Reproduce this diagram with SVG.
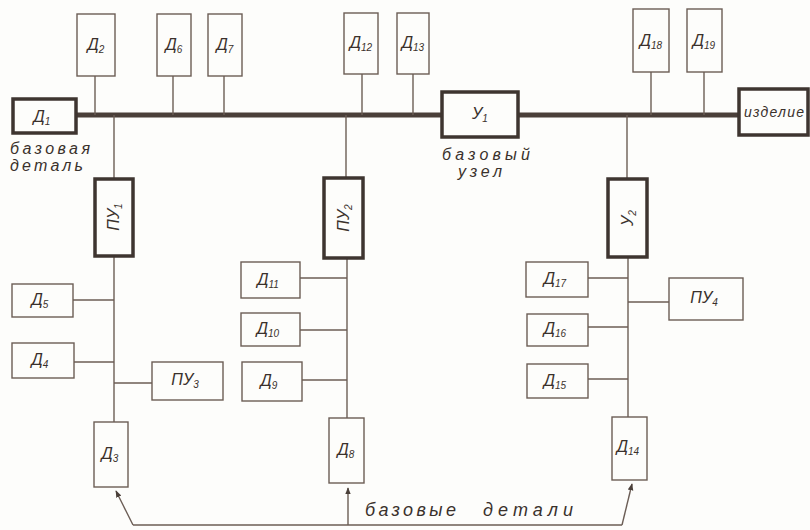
<svg xmlns="http://www.w3.org/2000/svg" width="810" height="530" viewBox="0 0 810 530">
<defs>
<style>
.b{fill:#fdfdfb;stroke:#6b5d55;stroke-width:1.4}
.k{fill:#fdfdfb;stroke:#3e3530;stroke-width:3.5}
.c{stroke:#6b5d55;stroke-width:1.4;fill:none}
.m{stroke:#4a3f39;stroke-width:5;fill:none}
.t{font-family:"Liberation Sans",sans-serif;font-style:italic;fill:#3a312c;font-size:16px;text-anchor:middle}
.s{font-size:10px}
.n{font-family:"Liberation Sans",sans-serif;font-style:italic;fill:#3a312c;font-size:16px}
</style>
<marker id="ar" viewBox="0 0 10 10" refX="9" refY="5" markerWidth="7" markerHeight="7" orient="auto-start-reverse" markerUnits="userSpaceOnUse">
<path d="M0,1 L10,5 L0,9 Z" fill="#4a3f39"/>
</marker>
</defs>
<rect width="810" height="530" fill="#fdfdfb"/>
<g id="connectors">
<line class="m" x1="76" y1="115" x2="739" y2="115"/>
<line class="c" x1="95" y1="76" x2="95" y2="115"/>
<line class="c" x1="173" y1="76" x2="173" y2="115"/>
<line class="c" x1="224" y1="76" x2="224" y2="115"/>
<line class="c" x1="362" y1="74" x2="362" y2="115"/>
<line class="c" x1="413" y1="74" x2="413" y2="115"/>
<line class="c" x1="651" y1="72" x2="651" y2="115"/>
<line class="c" x1="704" y1="72" x2="704" y2="115"/>
<line class="c" x1="114" y1="115" x2="114" y2="179"/>
<line class="c" x1="346" y1="115" x2="346" y2="178"/>
<line class="c" x1="627" y1="115" x2="627" y2="179"/>
<line class="c" x1="114" y1="256" x2="114" y2="422"/>
<line class="c" x1="73" y1="300" x2="114" y2="300"/>
<line class="c" x1="74" y1="362" x2="114" y2="362"/>
<line class="c" x1="114" y1="383" x2="152" y2="383"/>
<line class="c" x1="347" y1="258" x2="347" y2="418"/>
<line class="c" x1="300" y1="278" x2="347" y2="278"/>
<line class="c" x1="300" y1="330" x2="347" y2="330"/>
<line class="c" x1="302" y1="380" x2="347" y2="380"/>
<line class="c" x1="628" y1="257" x2="628" y2="417"/>
<line class="c" x1="588" y1="278" x2="628" y2="278"/>
<line class="c" x1="628" y1="302" x2="669" y2="302"/>
<line class="c" x1="588" y1="327" x2="628" y2="327"/>
<line class="c" x1="588" y1="379" x2="628" y2="379"/>
<polyline class="c" points="133,525 622,525"/>
<line class="c" x1="133" y1="525" x2="116" y2="491" marker-end="url(#ar)"/>
<line class="c" x1="348" y1="525" x2="348" y2="488" marker-end="url(#ar)"/>
<line class="c" x1="622" y1="525" x2="632" y2="484" marker-end="url(#ar)"/>
</g>
<g id="d1"><rect class="k" x="13" y="99" width="63" height="34"/><text class="t" x="42" y="122">Д<tspan class="s" dy="3">1</tspan></text></g>
<g id="d1-label"><text class="n" x="10" y="154" textLength="80" lengthAdjust="spacing">базовая</text><text class="n" x="10" y="171" textLength="73" lengthAdjust="spacing">деталь</text></g>
<g id="d2"><rect class="b" x="77" y="14" width="38" height="62"/><text class="t" x="96" y="50">Д<tspan class="s" dy="3">2</tspan></text></g>
<g id="d6"><rect class="b" x="157" y="14" width="34" height="62"/><text class="t" x="174" y="50">Д<tspan class="s" dy="3">6</tspan></text></g>
<g id="d7"><rect class="b" x="208" y="14" width="34" height="62"/><text class="t" x="225" y="50">Д<tspan class="s" dy="3">7</tspan></text></g>
<g id="d12"><rect class="b" x="344" y="13" width="34" height="61"/><text class="t" x="361" y="48">Д<tspan class="s" dy="3">12</tspan></text></g>
<g id="d13"><rect class="b" x="397" y="13" width="32" height="61"/><text class="t" x="413" y="48">Д<tspan class="s" dy="3">13</tspan></text></g>
<g id="d18"><rect class="b" x="633" y="9" width="36" height="63"/><text class="t" x="651" y="46">Д<tspan class="s" dy="3">18</tspan></text></g>
<g id="d19"><rect class="b" x="687" y="9" width="35" height="63"/><text class="t" x="704" y="46">Д<tspan class="s" dy="3">19</tspan></text></g>
<g id="u1"><rect class="k" x="442" y="92" width="76" height="45"/><text class="t" x="480" y="119">У<tspan class="s" dy="3">1</tspan></text></g>
<g id="u1-label"><text class="n" x="442" y="160" textLength="88" lengthAdjust="spacing">базовый</text><text class="n" x="458" y="177" textLength="44" lengthAdjust="spacing">узел</text></g>
<g id="izd"><rect class="k" x="739" y="89" width="69" height="46"/><text class="t" x="774" y="117" style="font-size:14px" textLength="60" lengthAdjust="spacing">изделие</text></g>
<g id="pu1"><rect class="k" x="95" y="179" width="38" height="77"/><text class="t" transform="translate(119,217) rotate(-90)">ПУ<tspan class="s" dy="3">1</tspan></text></g>
<g id="pu2"><rect class="k" x="324" y="178" width="39" height="80"/><text class="t" transform="translate(349,218) rotate(-90)">ПУ<tspan class="s" dy="3">2</tspan></text></g>
<g id="u2"><rect class="k" x="608" y="179" width="39" height="78"/><text class="t" transform="translate(633,218) rotate(-90)">У<tspan class="s" dy="3">2</tspan></text></g>
<g id="d5"><rect class="b" x="12" y="284" width="61" height="33"/><text class="t" x="40" y="305">Д<tspan class="s" dy="3">5</tspan></text></g>
<g id="d4"><rect class="b" x="12" y="343" width="62" height="35"/><text class="t" x="40" y="365">Д<tspan class="s" dy="3">4</tspan></text></g>
<g id="pu3"><rect class="b" x="152" y="362" width="71" height="38"/><text class="t" x="185" y="385">ПУ<tspan class="s" dy="3">3</tspan></text></g>
<g id="d3"><rect class="b" x="94" y="422" width="34" height="65"/><text class="t" x="110" y="459">Д<tspan class="s" dy="3">3</tspan></text></g>
<g id="d11"><rect class="b" x="241" y="262" width="59" height="36"/><text class="t" x="268" y="285">Д<tspan class="s" dy="3">11</tspan></text></g>
<g id="d10"><rect class="b" x="241" y="313" width="59" height="33"/><text class="t" x="268" y="334">Д<tspan class="s" dy="3">10</tspan></text></g>
<g id="d9"><rect class="b" x="242" y="362" width="60" height="39"/><text class="t" x="269" y="386">Д<tspan class="s" dy="3">9</tspan></text></g>
<g id="d8"><rect class="b" x="329" y="418" width="35" height="65"/><text class="t" x="346" y="455">Д<tspan class="s" dy="3">8</tspan></text></g>
<g id="d17"><rect class="b" x="526" y="262" width="62" height="35"/><text class="t" x="555" y="284">Д<tspan class="s" dy="3">17</tspan></text></g>
<g id="pu4"><rect class="b" x="669" y="278" width="74" height="42"/><text class="t" x="704" y="303">ПУ<tspan class="s" dy="3">4</tspan></text></g>
<g id="d16"><rect class="b" x="527" y="314" width="61" height="32"/><text class="t" x="555" y="334">Д<tspan class="s" dy="3">16</tspan></text></g>
<g id="d15"><rect class="b" x="527" y="364" width="61" height="34"/><text class="t" x="555" y="386">Д<tspan class="s" dy="3">15</tspan></text></g>
<g id="d14"><rect class="b" x="612" y="417" width="35" height="63"/><text class="t" x="628" y="452">Д<tspan class="s" dy="3">14</tspan></text></g>
<g id="base-label"><text class="n" y="516" style="font-size:18px"><tspan x="365" textLength="91" lengthAdjust="spacing">базовые</tspan> <tspan x="483" textLength="90" lengthAdjust="spacing">детали</tspan></text></g>
</svg>
